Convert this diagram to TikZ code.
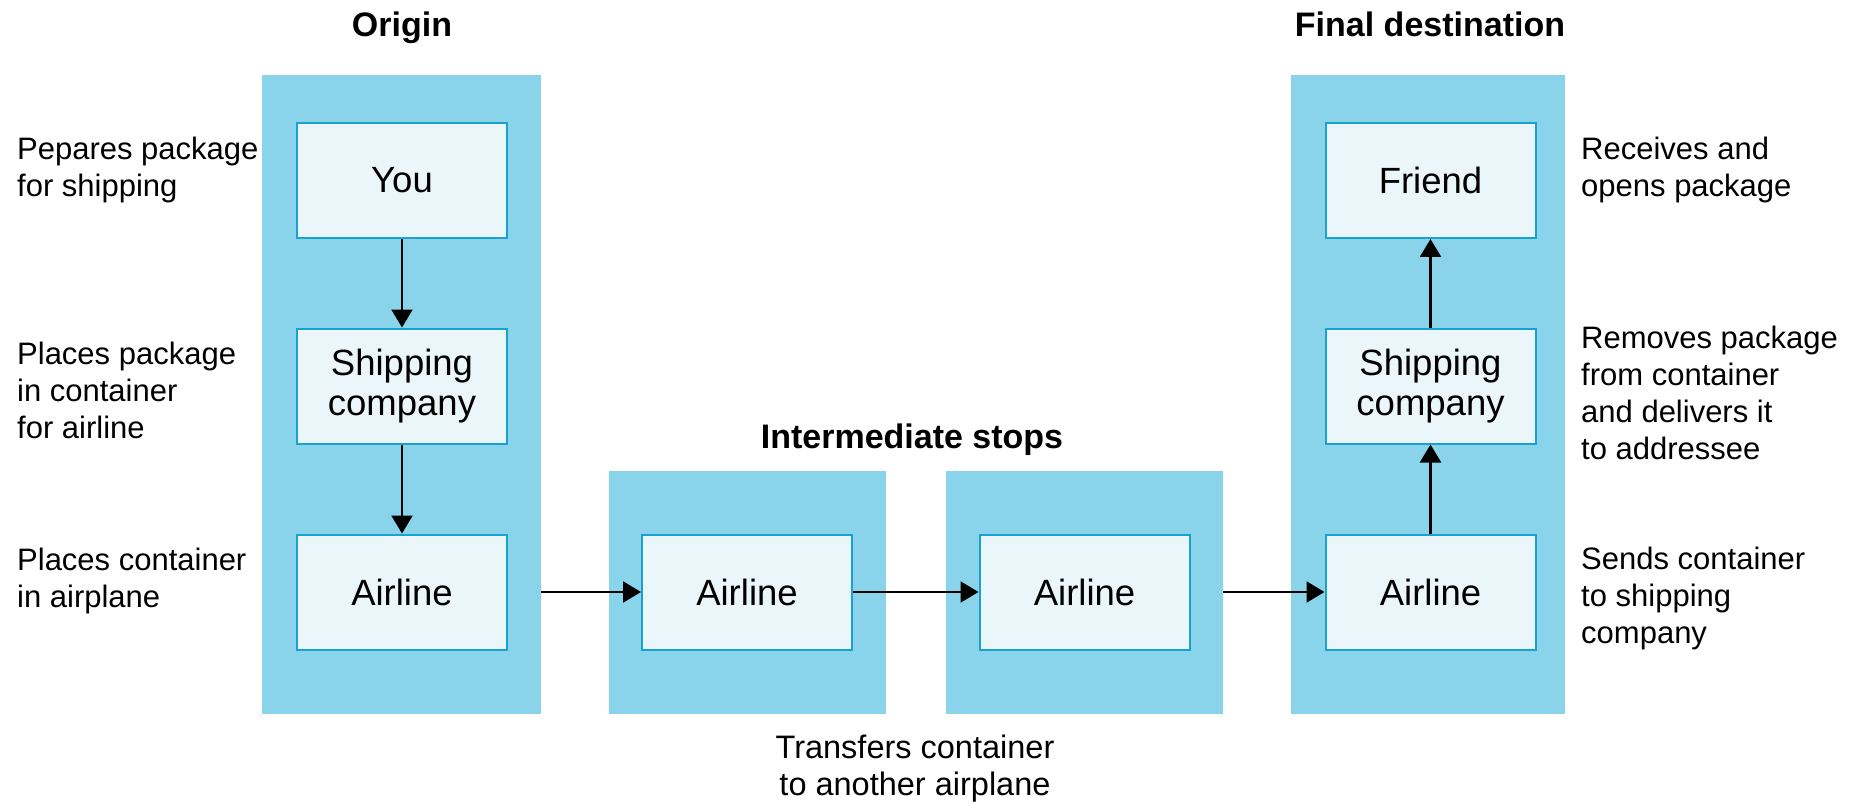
\documentclass[tikz,border=0pt]{standalone}
\usepackage{fontspec}
\setmainfont{Liberation Sans}
\usetikzlibrary{arrows.meta}
\definecolor{panelblue}{HTML}{89D4EA}
\definecolor{boxfill}{HTML}{EBF6FA}
\definecolor{boxline}{HTML}{17A2CF}
\begin{document}
\begin{tikzpicture}[x=1pt,y=-1pt,
  panel/.style={fill=panelblue, draw=none, inner sep=0pt, anchor=north west},
  stage/.style={draw=boxline, line width=2pt, fill=boxfill, minimum width=210pt, minimum height=115pt, inner sep=0pt, font=\fontsize{36.5}{40}\selectfont, align=center},
  note/.style={font=\fontsize{31}{37}\selectfont, align=left, inner sep=0pt, anchor=base west},
  heading/.style={font=\fontsize{34}{40}\selectfont\bfseries, inner sep=0pt, anchor=base},
  flow/.style={-{Triangle[length=18pt,width=21pt]}, line width=2.2pt}]
\path[use as bounding box] (0,0) rectangle (1859,802);
% panels
\node[panel, minimum width=279pt, minimum height=639pt] (opanel) at (262,75) {};
\node[panel, minimum width=277pt, minimum height=243pt] (ipanel1) at (609,471) {};
\node[panel, minimum width=277pt, minimum height=243pt] (ipanel2) at (946,471) {};
\node[panel, minimum width=274pt, minimum height=639pt] (fpanel) at (1291,75) {};
% stages
\node[stage] (you) at (402,180.5) {You};
\node[stage] (oship) at (402,386) {Shipping\\company};
\node[stage] (oair) at (402,592) {Airline};
\node[stage] (iair1) at (747,592) {Airline};
\node[stage] (iair2) at (1084.5,592) {Airline};
\node[stage] (fair) at (1430.5,592) {Airline};
\node[stage] (fship) at (1430.5,386) {Shipping\\company};
\node[stage] (friend) at (1430.5,180.5) {Friend};
% connectors
\draw[flow] (you) -- (oship);
\draw[flow] (oship) -- (oair);
\draw[flow] (oair -| opanel.east) -- (iair1);
\draw[flow] (iair1) -- (iair2);
\draw[flow] (iair2 -| ipanel2.east) -- (fair);
\draw[flow] (fair) -- (fship);
\draw[flow] (fship) -- (friend);
% headings
\node[heading] (torigin) at (402,37) {Origin};
\node[heading] (tfinal) at (1430,37) {Final destination};
\node[heading] (tinter) at (912,448) {Intermediate stops};
% notes (anchored at the baseline of the last line)
\node[note] (n1) at (17,197) {Pepares package\\for shipping};
\node[note] (n2) at (17,438) {Places package\\in container\\for airline};
\node[note] (n3) at (17,607) {Places container\\in airplane};
\node[note] (n4) at (1581,197) {Receives and\\opens package};
\node[note] (n5) at (1581,459) {Removes package\\from container\\and delivers it\\to addressee};
\node[note] (n6) at (1581,643) {Sends container\\to shipping\\company};
\node[note, font=\fontsize{32.5}{37}\selectfont, align=center, anchor=base] (n7) at (915,795) {Transfers container\\to another airplane};
\end{tikzpicture}
\end{document}
